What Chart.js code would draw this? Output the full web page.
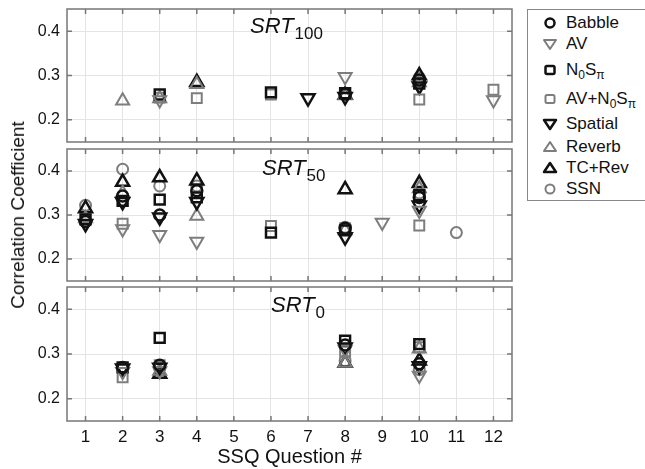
<!DOCTYPE html>
<html>
<head>
<meta charset="utf-8">
<script src="https://cdn.jsdelivr.net/npm/chart.js@4"></script>
<style>
  body { margin: 0; background: #fff; font-family: "Liberation Sans", Arial, sans-serif; }
  #wrap { position: relative; width: 645px; height: 469px; overflow: hidden; }
  canvas { position: absolute; left: 0; }
  .ttl { position: absolute; font-size: 22px; line-height: 22px; color: #111; white-space: nowrap; }
  .ttl i { font-style: italic; }
  .ttl sub { font-size: 17px; position: relative; top: 6px; vertical-align: baseline; margin-left: 1px; }
  #ytitle { position: absolute; left: 18px; top: 215px; font-size: 19px; color: #111; white-space: nowrap;
            transform: translate(-50%, -50%) rotate(-90deg); }
  #legend { position: absolute; left: 527px; top: 9px; width: 140px; height: 190px; border: 1.5px solid #888; }
  .row { position: absolute; left: 0; font-size: 17px; color: #111; white-space: nowrap; }
  .row svg { position: absolute; left: 12px; top: 0; }
  .row span { position: absolute; left: 38px; top: 0; line-height: 20px; }
  .row sub { font-size: 12px; }
</style>
</head>
<body>
<div id="wrap">
  <canvas id="c100"></canvas>
  <canvas id="c50"></canvas>
  <canvas id="c0"></canvas>
  <div class="ttl" style="left:250px;top:15px"><i>SRT</i><sub>100</sub></div>
  <div class="ttl" style="left:262px;top:157px"><i>SRT</i><sub>50</sub></div>
  <div class="ttl" style="left:271px;top:294px"><i>SRT</i><sub>0</sub></div>
  <div id="ytitle">Correlation Coefficient</div>
  <div id="legend"></div>
</div>
<script>
// categories / ticks
const questions = [1, 2, 3, 4, 5, 6, 7, 8, 9, 10, 11, 12];
const yTicks = [0.2, 0.3, 0.4];
const seriesNames = ['Babble', 'AV', 'N<sub>0</sub>S<sub>\u03c0</sub>', 'AV+N<sub>0</sub>S<sub>\u03c0</sub>', 'Spatial', 'Reverb', 'TC+Rev', 'SSN'];

// SRT100 panel          Q1    Q2     Q3     Q4     Q5    Q6     Q7     Q8     Q9    Q10    Q11   Q12
const babble100    = [null, null,  null,  null,  null, null,  null,  0.258, null, 0.290, null, null];
const av100        = [null, null,  0.245, null,  null, null,  null,  0.297, null, null,  null, 0.245];
const n0spi100     = [null, null,  0.257, null,  null, 0.262, null,  0.260, null, 0.282, null, null];
const avn0spi100   = [null, null,  0.250, 0.249, null, 0.257, null,  null,  null, 0.246, null, 0.268];
const spatial100   = [null, null,  null,  null,  null, null,  0.249, 0.252, null, 0.276, null, null];
const reverb100    = [null, 0.243, 0.248, 0.280, null, null,  null,  0.255, null, 0.284, null, null];
const tcrev100     = [null, null,  null,  0.285, null, null,  null,  0.256, null, 0.300, null, null];
const ssn100       = [null, null,  null,  null,  null, null,  null,  0.260, null, 0.295, null, null];

// SRT50 panel
const babble50     = [0.285, 0.343, 0.300, 0.355, null, null,  null, 0.270, null,  0.340, null,  null];
const av50         = [null,  0.268, 0.255, 0.240, null, null,  null, null,  0.283, 0.310, null,  null];
const n0spi50      = [0.290, 0.332, 0.335, 0.340, null, 0.260, null, 0.265, null,  0.345, null,  null];
const avn0spi50    = [null,  0.280, null,  null,  null, 0.275, null, 0.270, null,  0.276, null,  null];
const spatial50    = [0.280, 0.330, 0.295, 0.330, null, null,  null, 0.250, null,  0.322, null,  null];
const reverb50     = [0.292, 0.350, null,  0.298, null, null,  null, 0.265, null,  0.360, null,  null];
const tcrev50      = [0.315, 0.375, 0.385, 0.378, null, null,  null, 0.358, null,  0.372, null,  null];
const ssn50        = [0.322, 0.404, 0.366, 0.366, null, null,  null, 0.272, null,  0.350, 0.260, null];

// SRT0 panel
const babble0      = [null, 0.270, 0.275, null, null, null, null, 0.320, null, 0.278, null, null];
const av0          = [null, 0.260, 0.262, null, null, null, null, 0.310, null, 0.252, null, null];
const n0spi0       = [null, 0.270, 0.336, null, null, null, null, 0.330, null, 0.322, null, null];
const avn0spi0     = [null, 0.248, 0.275, null, null, null, null, 0.305, null, 0.315, null, null];
const spatial0     = [null, 0.268, 0.270, null, null, null, null, 0.315, null, 0.273, null, null];
const reverb0      = [null, null,  0.262, null, null, null, null, 0.280, null, 0.312, null, null];
const tcrev0       = [null, null,  0.255, null, null, null, null, 0.280, null, 0.285, null, null];
const ssn0         = [null, null,  0.270, null, null, null, null, 0.285, null, 0.265, null, null];

const BLACK = '#111111';
const GRAY = '#7d7d7d';
const FONT = '"Liberation Sans", Arial, sans-serif';

// marker style per series, same order as seriesNames
const markers = [
  { style: 'circle',   rot: 0,   color: BLACK, r: 5.5, w: 2.5 },
  { style: 'triangle', rot: 180, color: GRAY,  r: 7.5, w: 2 },
  { style: 'rect',     rot: 0,   color: BLACK, r: 7,   w: 2.5 },
  { style: 'rect',     rot: 0,   color: GRAY,  r: 7,   w: 2 },
  { style: 'triangle', rot: 180, color: BLACK, r: 7.5, w: 2.5 },
  { style: 'triangle', rot: 0,   color: GRAY,  r: 7.5, w: 2 },
  { style: 'triangle', rot: 0,   color: BLACK, r: 7.5, w: 2.5 },
  { style: 'circle',   rot: 0,   color: GRAY,  r: 5.5, w: 2 }
];

function makeDatasets(list) {
  return list.map((vals, i) => ({
    label: seriesNames[i],
    data: questions.map((q, k) => ({ x: q, y: vals[k] })).filter(p => p.y != null),
    showLine: false,
    pointStyle: markers[i].style,
    rotation: markers[i].rot,
    pointRadius: markers[i].r,
    pointBorderWidth: markers[i].w,
    pointBorderColor: markers[i].color,
    pointBackgroundColor: 'rgba(0,0,0,0)'
  }));
}

// box + inner tick marks (matlab style)
const boxPlugin = {
  id: 'box',
  afterDraw(chart) {
    const { ctx, chartArea: a, scales } = chart;
    ctx.save();
    ctx.strokeStyle = '#777';
    ctx.lineWidth = 1.5;
    ctx.beginPath();
    questions.forEach(q => {
      const x = scales.x.getPixelForValue(q);
      ctx.moveTo(x, a.bottom); ctx.lineTo(x, a.bottom - 5);
      ctx.moveTo(x, a.top); ctx.lineTo(x, a.top + 5);
    });
    yTicks.forEach(v => {
      const y = scales.y.getPixelForValue(v);
      ctx.moveTo(a.left, y); ctx.lineTo(a.left + 5, y);
      ctx.moveTo(a.right, y); ctx.lineTo(a.right - 5, y);
    });
    ctx.stroke();
    ctx.strokeRect(a.left, a.top, a.right - a.left, a.bottom - a.top);
    ctx.restore();
  }
};

function noPad(s) {
  s.paddingLeft = 0; s.paddingRight = 0; s.paddingTop = 0; s.paddingBottom = 0;
}

function makeChart(id, top, height, pad, list, opts) {
  const cv = document.getElementById(id);
  cv.style.top = top + 'px';
  cv.width = 520; cv.height = height;
  cv.style.width = '520px'; cv.style.height = height + 'px';
  return new Chart(cv, {
    type: 'scatter',
    data: { datasets: makeDatasets(list) },
    plugins: [boxPlugin],
    options: {
      responsive: false,
      animation: false,
      layout: { padding: pad, autoPadding: false },
      plugins: { legend: { display: false }, tooltip: { enabled: false } },
      scales: {
        x: {
          type: 'linear', min: 0.5, max: 12.5,
          afterBuildTicks: s => { s.ticks = questions.map(v => ({ value: v })); },
          afterFit: s => { s.height = opts.xHeight; noPad(s); },
          grid: { color: '#e4e4e4', drawTicks: false },
          border: { display: false },
          ticks: { display: opts.xLabels, color: '#111', padding: 6, font: { family: FONT, size: 17 } },
          title: { display: opts.xLabels, text: 'SSQ Question #', color: '#111', padding: { top: 0, bottom: 0 }, font: { family: FONT, size: 20 } }
        },
        y: {
          type: 'linear', min: 0.15, max: 0.45,
          afterBuildTicks: s => { s.ticks = yTicks.map(v => ({ value: v })); },
          afterFit: s => { s.width = 67; noPad(s); },
          grid: { color: '#e4e4e4', drawTicks: false },
          border: { display: false },
          ticks: { color: '#111', padding: 7, font: { family: FONT, size: 16 }, callback: v => v.toFixed(1) }
        }
      }
    }
  });
}

makeChart('c100', 0, 145, { top: 9, right: 8, bottom: 3, left: 0 },
  [babble100, av100, n0spi100, avn0spi100, spatial100, reverb100, tcrev100, ssn100],
  { xHeight: 0, xLabels: false });
makeChart('c50', 145, 140, { top: 4, right: 8, bottom: 4, left: 0 },
  [babble50, av50, n0spi50, avn0spi50, spatial50, reverb50, tcrev50, ssn50],
  { xHeight: 0, xLabels: false });
makeChart('c0', 283, 186, { top: 4, right: 8, bottom: 0, left: 0 },
  [babble0, av0, n0spi0, avn0spi0, spatial0, reverb0, tcrev0, ssn0],
  { xHeight: 48, xLabels: true });

// legend rows with svg markers
const legendY = [13, 34, 60, 89, 114, 137, 158, 179];
function markerSvg(m) {
  const c = 10;
  let shape;
  if (m.style === 'circle') {
    shape = `<circle cx="${c}" cy="${c}" r="4.5" />`;
  } else if (m.style === 'rect') {
    shape = `<rect x="${c - 4.5}" y="${c - 4}" width="9" height="8" rx="1.5" />`;
  } else {
    const pts = m.rot ? `${c - 6},${c - 4} ${c + 6},${c - 4} ${c},${c + 5}` : `${c - 6},${c + 4} ${c + 6},${c + 4} ${c},${c - 5}`;
    shape = `<polygon points="${pts}" />`;
  }
  return `<svg width="20" height="20" fill="none" stroke="${m.color}" stroke-width="${m.w}" stroke-linejoin="round">${shape}</svg>`;
}
const leg = document.getElementById('legend');
seriesNames.forEach((name, i) => {
  const row = document.createElement('div');
  row.className = 'row';
  row.style.top = (legendY[i] - 10) + 'px';
  row.innerHTML = markerSvg(markers[i]) + `<span>${name}</span>`;
  leg.appendChild(row);
});
</script>
</body>
</html>
